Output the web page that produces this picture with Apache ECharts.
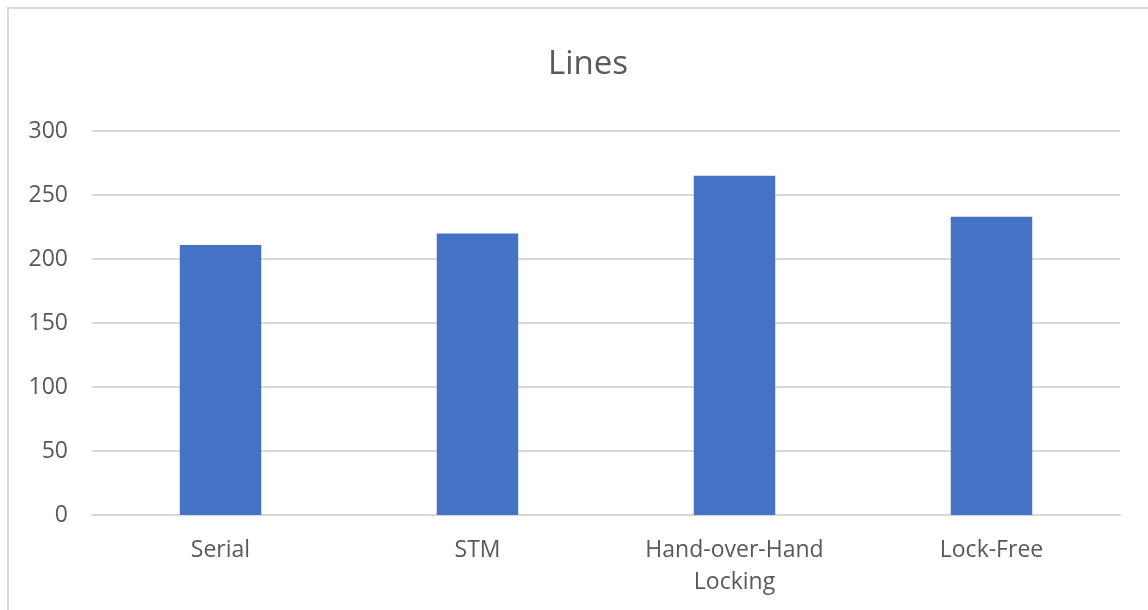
<!DOCTYPE html>
<html>
<head>
<meta charset="utf-8">
<script src="https://cdn.jsdelivr.net/npm/echarts@6/dist/echarts.min.js"></script>
<style>
html,body{margin:0;padding:0;background:#fff;}
#chart{width:1148px;height:610px;}
</style>
</head>
<body>
<div id="chart"></div>
<script>
const titleText = 'Lines';
const categories = ['Serial', 'STM', 'Hand-over-Hand Locking', 'Lock-Free'];
const values = [211, 220, 265, 233];
const yTicks = { min: 0, max: 300, interval: 50 };

const chart = echarts.init(document.getElementById('chart'));
const textColor = '#595959';
const font = 'Open Sans';
chart.setOption({
  animation: false,
  backgroundColor: '#ffffff',
  title: {
    text: titleText,
    left: 543,
    top: 43,
    textStyle: { fontFamily: font, fontSize: 33, fontWeight: 'normal', color: textColor }
  },
  graphic: [{
    type: 'rect',
    shape: { x: 8, y: 8, width: 1300, height: 800 },
    style: { fill: 'none', stroke: '#d9d9d9', lineWidth: 2 },
    silent: true
  }],
  grid: { left: 92, right: 28, top: 131, bottom: 95, containLabel: false },
  xAxis: {
    type: 'category',
    data: categories,
    axisTick: { show: false },
    axisLine: { lineStyle: { color: '#d9d9d9', width: 2 } },
    axisLabel: {
      fontFamily: font, fontSize: 23, color: textColor, margin: 19, lineHeight: 32,
      formatter: v => v.replace(' ', '\n')
    }
  },
  yAxis: {
    type: 'value',
    min: yTicks.min, max: yTicks.max, interval: yTicks.interval,
    axisLine: { show: false },
    axisTick: { show: false },
    splitLine: { lineStyle: { color: '#d9d9d9', width: 2 } },
    axisLabel: { fontFamily: font, fontSize: 23, color: textColor, margin: 24 }
  },
  series: [{
    type: 'bar',
    data: values,
    barWidth: '31.7%',
    itemStyle: { color: '#4472c4' }
  }]
});
</script>
</body>
</html>
